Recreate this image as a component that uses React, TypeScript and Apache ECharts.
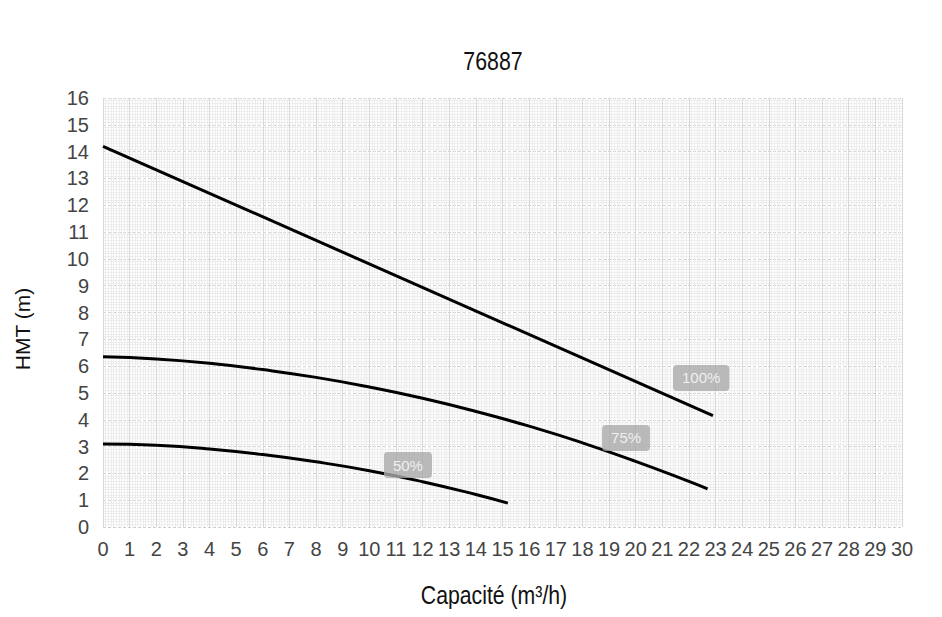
import React, { useEffect, useRef } from "react";
import * as echarts from "echarts";

const title = "76887";
const xName = "Capacité (m³/h)";
const yName = "HMT (m)";

const curve100: [number, number][] = [
  [0, 14.2],
  [22.9, 4.15],
];
const curve75: [number, number][] = [
  [0, 6.35], [2, 6.27], [4, 6.11], [6, 5.87], [8, 5.58], [10, 5.22],
  [12, 4.8], [14, 4.31], [16, 3.76], [18, 3.14], [20, 2.45], [22, 1.7], [22.7, 1.42],
];
const curve50: [number, number][] = [
  [0, 3.1], [2, 3.05], [4, 2.91], [6, 2.7], [8, 2.43], [10, 2.1],
  [12, 1.69], [14, 1.21], [15.2, 0.89],
];
const labelNames = ["100%", "75%", "50%"];
const labelPositions: [number, number][] = [
  [22.46, 5.56],
  [19.64, 3.32],
  [11.45, 2.31],
];

export default function App() {
  const ref = useRef<HTMLDivElement>(null);
  useEffect(() => {
    if (!ref.current) return;
    const chart = echarts.init(ref.current, undefined, { renderer: "svg" });
    const lineSeries = (data: [number, number][]) => ({
      type: "line",
      data,
      smooth: true,
      symbol: "none",
      lineStyle: { color: "#000", width: 3 },
      z: 3,
    });
    chart.setOption({
      animation: false,
      backgroundColor: "#fff",
      grid: { left: 103, right: 40, top: 98, bottom: 90 },
      graphic: [
        {
          type: "text",
          x: 493,
          y: 61,
          scaleX: 0.82,
          style: {
            text: title,
            font: '26px "Liberation Sans", Arial, sans-serif',
            fill: "#111",
            textAlign: "center",
            textVerticalAlign: "middle",
          },
        },
        {
          type: "text",
          x: 494,
          y: 595,
          scaleX: 0.85,
          style: {
            text: xName,
            font: '25px "Liberation Sans", Arial, sans-serif',
            fill: "#111",
            textAlign: "center",
            textVerticalAlign: "middle",
          },
        },
        {
          type: "text",
          x: 22,
          y: 329,
          rotation: Math.PI / 2,
          style: {
            text: yName,
            font: '21px "Liberation Sans", Arial, sans-serif',
            fill: "#111",
            textAlign: "center",
            textVerticalAlign: "middle",
          },
        },
      ],
      xAxis: {
        type: "value",
        min: 0,
        max: 30,
        interval: 1,
        axisLine: { show: false },
        axisTick: { show: false },
        axisLabel: {
          color: "#444",
          fontSize: 20,
          fontFamily: '"Liberation Sans", Arial, sans-serif',
          margin: 12,
        },
        splitLine: { show: true, lineStyle: { color: "#d8d8d8", width: 1 } },
        minorTick: { show: false, splitNumber: 10 },
        minorSplitLine: { show: true, lineStyle: { color: "#ededed", width: 1 } },
      },
      yAxis: {
        type: "value",
        min: 0,
        max: 16,
        interval: 1,
        axisLine: { show: false },
        axisTick: { show: false },
        axisLabel: {
          color: "#444",
          fontSize: 20,
          fontFamily: '"Liberation Sans", Arial, sans-serif',
          margin: 14,
        },
        splitLine: { show: true, lineStyle: { color: "#d0d0d0", width: 1, type: [3, 2] } },
        minorTick: { show: false, splitNumber: 10 },
        minorSplitLine: { show: true, lineStyle: { color: "#ededed", width: 1 } },
      },
      series: [
        lineSeries(curve100),
        lineSeries(curve75),
        lineSeries(curve50),
        {
          type: "scatter",
          symbolSize: 0,
          z: 5,
          data: labelPositions.map((p, i) => ({ value: p, name: labelNames[i] })),
          label: {
            show: true,
            position: "inside",
            formatter: (p: any) => p.name,
            color: "#fff",
            fontSize: 15,
            fontFamily: '"Liberation Sans", Arial, sans-serif',
            backgroundColor: "#aaaaaa",
            borderRadius: 4,
            padding: [6, 9, 5, 9],
          },
        },
      ],
    });
    return () => chart.dispose();
  }, []);
  return (
    <div
      ref={ref}
      style={{ position: "fixed", left: 0, top: 0, width: 942, height: 617 }}
    />
  );
}
